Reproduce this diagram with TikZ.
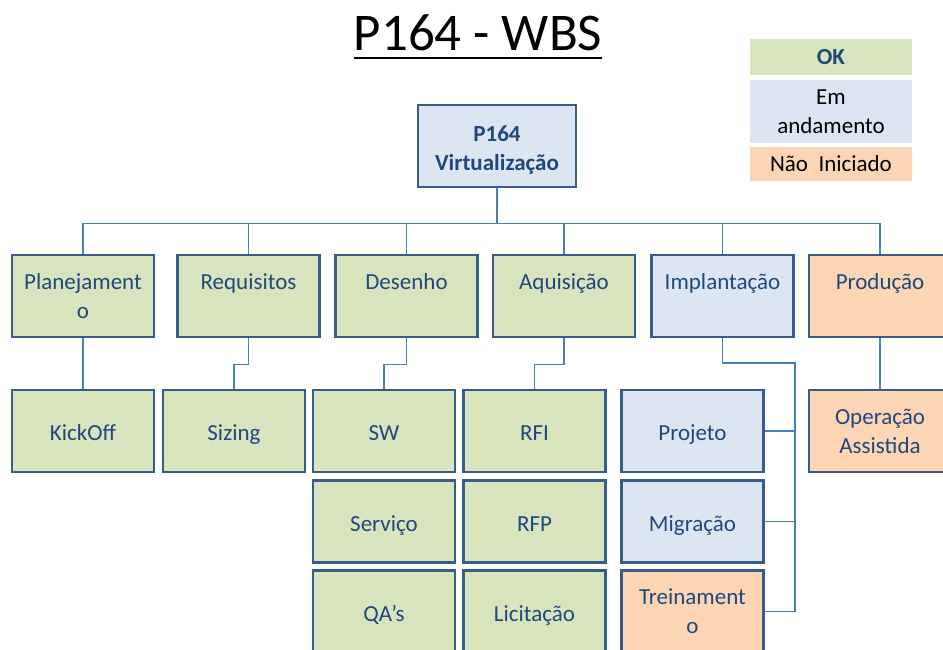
\documentclass[tikz,border=0pt]{standalone}
\usepackage{fontspec}
\setmainfont{Carlito}
\usepackage{tikz}
\usetikzlibrary{shapes}
\definecolor{okfill}{HTML}{D7E4BD}
\definecolor{runfill}{HTML}{DCE6F2}
\definecolor{todofill}{HTML}{FCD5B5}
\definecolor{boxline}{HTML}{385D8A}
\definecolor{boxtext}{HTML}{1F497D}
\definecolor{wirecol}{HTML}{4A7EBB}
\begin{document}
\begin{tikzpicture}[x=1pt,y=-1pt,
      every node/.style={align=center,inner sep=0pt,text=boxtext,
        font=\fontsize{23}{29}\selectfont},
      wbs/.style={draw=boxline,line width=2.5pt,minimum width=142pt,minimum height=82pt},
      ok/.style={wbs,fill=okfill},
      run/.style={wbs,fill=runfill},
      todo/.style={wbs,fill=todofill},
      leaf/.style={text height=25pt,text depth=6pt},
      key/.style={minimum width=162pt,text=black},
      link/.style={draw=wirecol,line width=1.4pt}]
      \useasboundingbox (0,0) rectangle (943,650);
      \clip (0,0) rectangle (943,650);
      \node[text=black,anchor=base,font=\fontsize{53}{60}\selectfont] (title) at (478,51) {P164 - WBS};
      \draw[line width=2.5pt] ([yshift=-7pt]title.base west) -- ([yshift=-7pt]title.base east);
      \node[key,fill=okfill,minimum height=36pt,text=boxtext,
        font=\bfseries\fontsize{23}{29}\selectfont] (kok) at (831,57) {OK};
      \node[key,fill=runfill,minimum height=63pt] (krun) at (831,111.5) {Em\\andamento};
      \node[key,fill=todofill,minimum height=34pt] (ktodo) at (831,164) {Não\ \ Iniciado};
      \node[run,minimum width=158pt,font=\bfseries\fontsize{23}{29}\selectfont] (root) at (497,146) {\rule{0pt}{23pt}P164\\Virtualização};
      \node[ok] (plan) at (83,296) {Planejament\\o};
      \node[ok] (req) at (248.5,296) {Requisitos\\\mbox{}};
      \node[ok] (des) at (406.5,296) {Desenho\\\mbox{}};
      \node[ok] (aq) at (564,296) {Aquisição\\\mbox{}};
      \node[run] (impl) at (722.5,296) {Implantação\\\mbox{}};
      \node[todo] (prod) at (880,296) {Produção\\\mbox{}};
      \node[ok,leaf] (kick) at (83,431) {KickOff};
      \node[ok,leaf] (size) at (234,431) {Sizing};
      \node[ok,leaf] (sw) at (384,431) {SW};
      \node[ok,leaf] (serv) at (384,521.5) {Serviço};
      \node[ok,leaf] (qa) at (384,611.5) {QA’s};
      \node[ok,leaf] (rfi) at (534.5,431) {RFI};
      \node[ok,leaf] (rfp) at (534.5,521.5) {RFP};
      \node[ok,leaf] (lic) at (534.5,611.5) {Licitação};
      \node[run,leaf] (proj) at (692.5,431) {Projeto};
      \node[run,leaf] (migr) at (692.5,521.5) {Migração};
      \node[todo] (trei) at (692.5,611.5) {Treinament\\o};
      \node[todo] (oper) at (880,431) {Operação\\Assistida};
      \foreach \n in {plan,req,des,aq,impl,prod}
        \draw[link] (root.south) -- ++(0,35) -| (\n.north);
      \draw[link] (plan.south) -- (kick.north);
      \draw[link] (req.south) -- ++(0,26) -| (size.north);
      \draw[link] (des.south) -- ++(0,26) -| (sw.north);
      \draw[link] (aq.south) -- ++(0,26) -| (rfi.north);
      \draw[link] (prod.south) -- (oper.north);
      \coordinate (spine) at (795,363);
      \draw[link] (impl.south) |- (spine) |- (proj.east);
      \draw[link] (spine) |- (migr.east);
      \draw[link] (spine) |- (trei.east);
\end{tikzpicture}
\end{document}
